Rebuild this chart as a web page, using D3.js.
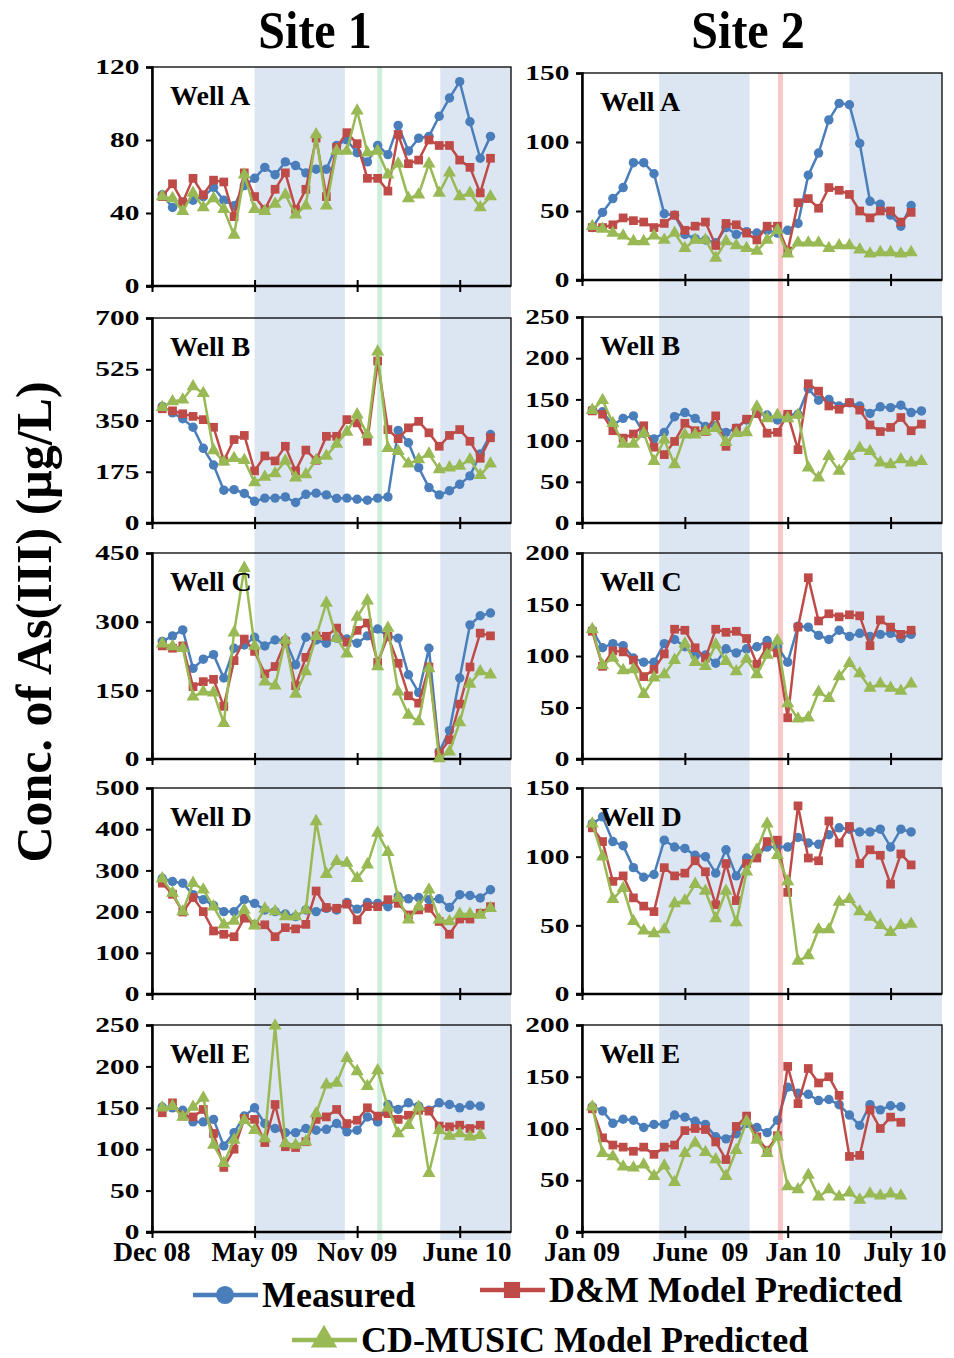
<!DOCTYPE html>
<html>
<head>
<meta charset="utf-8">
<style>
  body { margin: 0; background: #fff; }
  svg { display: block; font-family: "Liberation Serif", "Times New Roman", serif; font-weight: bold; }
</style>
</head>
<body>
<svg width="954" height="1358"></svg>
<script src="https://d3js.org/d3.v7.min.js"></script>
<script>
// ---- data (sample index 1..n on a 0..35 category axis) ----
var seriesNames = ["Measured", "D&M Model Predicted", "CD-MUSIC Model Predicted"];
var wells = ["Well A", "Well B", "Well C", "Well D", "Well E"];

var site1Ticks = ["Dec 08", "May 09", "Nov 09", "June 10"];
var site1TickPos = [0, 10, 20, 30.7];
var site2Ticks = ["Jan 09", "June  09", "Jan 10", "July 10"];
var site2TickPos = [0, 11.5, 21.5, 31.4];

var site1Bands = [[10, 18.8], [28.1, 35]];
var site1Mark = 22.2;
var site2Bands = [[7.5, 16.3], [26, 35]];
var site2Mark = 19.3;

var site1YMax = [120, 700, 450, 500, 250];
var site1YStep = [40, 175, 150, 100, 50];
var site2YMax = [150, 250, 200, 150, 200];
var site2YStep = [50, 50, 50, 50, 50];

// Site 1
var s1A_meas = [50,43,46,47,49,54,47,44,55,59,65,61,68,66,62,64,64,77,80,73,68,77,72,88,74,81,82,93,103,112,90,70,82];
var s1A_dm   = [49,56,46,59,50,58,57,38,62,49,42,53,62,42,53,81,49,76,84,78,59,59,52,83,67,69,80,77,77,69,65,51,70];
var s1A_cd   = [49,48,41,51,43,48,42,28,61,42,41,45,50,39,44,83,44,74,74,96,73,74,61,67,48,50,67,51,62,49,51,43,49];

var s1B_meas = [398,376,356,327,255,198,112,114,101,74,85,85,89,70,98,102,96,84,85,81,78,85,89,316,274,189,121,96,110,132,161,236,302];
var s1B_dm   = [390,383,373,364,353,327,212,285,299,178,229,212,262,178,249,214,296,296,353,342,279,553,319,288,325,347,308,262,299,319,279,221,291];
var s1B_cd   = [395,415,421,466,443,248,209,221,214,138,157,169,212,155,166,214,229,270,311,370,302,585,255,245,202,217,236,183,189,195,217,163,202];

var s1C_meas = [257,269,282,198,218,228,177,242,249,266,247,260,260,206,266,260,253,264,262,253,269,284,268,264,184,145,242,16,62,177,293,313,319];
var s1C_dm   = [247,242,247,158,169,174,115,215,262,235,186,202,257,160,222,269,268,286,255,281,297,211,268,209,138,122,201,12,42,120,201,275,269];
var s1C_cd   = [252,246,242,136,147,145,78,276,417,247,169,160,260,142,191,268,341,264,230,310,346,202,286,147,96,82,198,1,16,80,164,191,184];

var s1D_meas = [281,273,269,241,229,215,200,200,229,220,204,200,194,188,204,200,208,204,222,206,222,220,212,237,231,234,229,231,210,241,239,233,253];
var s1D_dm   = [269,242,199,234,200,153,145,139,184,169,168,139,161,158,169,250,210,208,218,180,212,212,229,220,192,204,208,176,145,182,182,196,212];
var s1D_cd   = [280,245,200,269,253,212,168,177,204,166,207,200,188,188,204,419,291,322,318,281,314,391,344,233,180,212,253,180,176,194,194,192,208];

var s1E_meas = [151,150,147,133,133,136,104,120,140,150,131,125,120,120,125,123,124,131,121,123,139,133,154,148,156,152,147,156,154,150,153,152];
var s1E_dm   = [144,156,140,139,148,119,78,100,137,136,108,154,103,102,109,136,139,148,131,135,150,140,143,136,141,147,146,128,127,129,125,129];
var s1E_cd   = [150,152,139,151,162,105,83,111,135,123,113,249,107,105,109,143,178,180,210,194,176,195,150,119,129,151,71,123,116,119,115,117];

// Site 2
var s2A_meas = [38,49,59,67,85,85,77,48,47,33,30,29,27,38,33,35,34,36,34,36,41,76,92,116,128,127,99,57,55,47,39,54];
var s2A_dm   = [38,38,40,45,43,42,38,41,47,36,39,42,25,41,40,34,29,39,39,21,56,59,52,67,65,62,50,45,50,50,42,49];
var s2A_cd   = [39,37,34,32,28,28,32,29,34,23,29,29,16,28,25,23,21,29,36,19,27,27,27,23,25,25,22,19,20,20,19,20];

var s2B_meas = [137,135,119,127,130,109,102,110,129,134,127,117,118,110,115,125,133,131,125,131,132,163,149,150,142,146,142,133,141,140,143,134,136];
var s2B_dm   = [136,132,112,103,108,118,92,83,99,121,112,111,130,93,115,126,133,109,110,132,89,169,160,142,138,146,137,119,111,116,128,112,120];
var s2B_cd   = [137,149,121,96,96,109,75,101,71,107,107,111,115,98,109,110,141,127,131,127,131,67,55,81,63,81,91,87,73,71,77,73,75];

var s2C_meas = [125,108,112,110,98,94,94,112,116,109,100,101,93,107,103,107,109,115,109,94,129,128,120,116,125,119,122,119,121,122,117,121];
var s2C_dm   = [124,90,105,104,96,80,87,102,126,125,108,98,126,123,124,117,92,109,103,40,128,176,134,141,138,140,139,110,135,128,121,125];
var s2C_cd   = [126,91,98,86,87,63,79,82,96,112,94,90,111,95,85,97,82,101,115,54,39,40,65,59,80,93,83,69,73,69,66,73];

var s2D_meas = [124,129,111,108,92,85,87,112,107,106,101,100,88,105,86,99,101,107,107,107,114,110,109,116,121,120,118,118,120,107,120,118];
var s2D_dm   = [121,111,82,86,70,64,60,92,86,88,97,89,65,95,68,95,99,111,112,74,137,99,97,126,110,122,95,105,101,80,102,94];
var s2D_cd   = [124,100,69,77,53,46,44,47,66,68,80,75,55,75,52,89,105,124,101,82,24,28,47,47,67,69,60,56,50,45,50,51];

var s2E_meas = [121,117,105,109,108,101,104,104,113,111,107,104,92,90,95,105,101,96,108,140,134,133,127,128,123,113,103,123,118,122,121];
var s2E_dm   = [119,91,84,82,78,82,75,82,84,98,100,99,87,70,102,112,92,79,93,160,124,158,144,150,132,73,74,118,100,111,106];
var s2E_cd   = [121,76,73,63,62,65,54,64,48,76,86,77,70,54,79,107,89,76,92,44,41,55,34,41,34,38,31,37,35,37,35];

var site1Data = [[s1A_meas,s1A_dm,s1A_cd],[s1B_meas,s1B_dm,s1B_cd],[s1C_meas,s1C_dm,s1C_cd],[s1D_meas,s1D_dm,s1D_cd],[s1E_meas,s1E_dm,s1E_cd]];
var site2Data = [[s2A_meas,s2A_dm,s2A_cd],[s2B_meas,s2B_dm,s2B_cd],[s2C_meas,s2C_dm,s2C_cd],[s2D_meas,s2D_dm,s2D_cd],[s2E_meas,s2E_dm,s2E_cd]];

// ---- layout ----
var colors = ["#4a7ebb", "#be4b48", "#98b954"];
var svg = d3.select("svg");

var sites = [
  { left: 152, right: 511, tops: [67, 318, 553, 788, 1025], bottoms: [286, 523, 759, 994, 1232],
    data: site1Data, yMax: site1YMax, yStep: site1YStep, bands: site1Bands, mark: site1Mark,
    markColor: "#cdeedb", ticks: site1Ticks, tickPos: site1TickPos, title: "Site 1", titleX: 315 },
  { left: 582, right: 942, tops: [73, 317, 553, 788, 1025], bottoms: [280, 523, 759, 994, 1232],
    data: site2Data, yMax: site2YMax, yStep: site2YStep, bands: site2Bands, mark: site2Mark,
    markColor: "#f9c9c9", ticks: site2Ticks, tickPos: site2TickPos, title: "Site 2", titleX: 748 }
];

var symbols = [d3.symbolCircle, d3.symbolSquare, d3.symbolTriangle];
var symSize = [70, 76, 74];

sites.forEach(function(s) {
  var x = d3.scaleLinear().domain([0, 35]).range([s.left, s.right]);
  var top = s.tops[0], bottom = 1240;

  // seasonal bands and event line behind all panels
  svg.append("g").selectAll("rect")
    .data(s.bands)
    .enter().append("rect")
      .attr("x", function(d) { return x(d[0]); })
      .attr("width", function(d) { return x(d[1]) - x(d[0]); })
      .attr("y", top)
      .attr("height", bottom - top)
      .attr("fill", "#dce6f2");
  svg.append("rect")
      .attr("x", x(s.mark) - 2.5).attr("width", 5)
      .attr("y", top).attr("height", bottom - top)
      .attr("fill", s.markColor);

  svg.append("text")
      .attr("transform", "translate(" + s.titleX + ",48) scale(1,1.1)")
      .attr("text-anchor", "middle")
      .attr("font-size", 48)
      .text(s.title);

  s.data.forEach(function(rows, i) {
    var y = d3.scaleLinear().domain([0, s.yMax[i]]).range([s.bottoms[i], s.tops[i]]);
    var g = svg.append("g");

    g.append("rect")
        .attr("x", s.left).attr("y", s.tops[i])
        .attr("width", s.right - s.left).attr("height", s.bottoms[i] - s.tops[i])
        .attr("fill", "none").attr("stroke", "#000").attr("stroke-width", 1.3);

    // y axis
    var ya = g.append("g")
        .attr("transform", "translate(" + s.left + ",0)")
        .call(d3.axisLeft(y)
          .tickValues(d3.range(0, s.yMax[i] + 1, s.yStep[i]))
          .tickSize(6).tickPadding(3));
    ya.attr("font-family", null);
    ya.select(".domain").attr("stroke-width", 2.5);
    ya.selectAll("line").attr("stroke-width", 2);
    ya.selectAll("text")
        .attr("font-size", 21)
        .attr("fill", "#000")
        .attr("transform", "scale(1.4,1)");

    // x axis with crossing ticks
    var xa = g.append("g")
        .attr("transform", "translate(0," + s.bottoms[i] + ")")
        .call(d3.axisBottom(x).tickValues([0, 10, 20, 30]).tickSize(6).tickFormat(""));
    xa.select(".domain").remove();
    xa.selectAll(".tick line").attr("y1", -6).attr("stroke-width", 2);
    xa.append("line")
        .attr("x1", s.left - 6).attr("x2", s.right)
        .attr("stroke", "#000").attr("stroke-width", 2.5);

    // series
    rows.forEach(function(vals, k) {
      var line = d3.line()
          .x(function(d, j) { return x(j + 1); })
          .y(function(d) { return y(d); });
      g.append("path")
          .datum(vals)
          .attr("fill", "none")
          .attr("stroke", colors[k])
          .attr("stroke-width", 2.5)
          .attr("d", line);
      g.selectAll(".m" + k)
        .data(vals)
        .enter().append("path")
          .attr("class", "m" + k)
          .attr("transform", function(d, j) { return "translate(" + x(j + 1) + "," + y(d) + ")"; })
          .attr("d", d3.symbol().type(symbols[k]).size(symSize[k]))
          .attr("fill", colors[k]);
    });

    g.append("text")
        .attr("x", s.left + 18)
        .attr("y", s.tops[i] + 38)
        .attr("font-size", 28)
        .text(wells[i]);
  });

  // date labels under the bottom row
  svg.append("g").selectAll("text")
    .data(s.ticks)
    .enter().append("text")
      .attr("x", function(d, j) { return x(s.tickPos[j]); })
      .attr("y", 1261)
      .attr("text-anchor", "middle")
      .attr("font-size", 27)
      .style("white-space", "pre")
      .text(function(d) { return d; });
});

// y-axis title
svg.append("text")
    .attr("transform", "translate(51,622) rotate(-90)")
    .attr("text-anchor", "middle")
    .attr("font-size", 50)
    .text("Conc. of As(III) (\u03bcg/L)");

// legend
var legendPos = [[193, 1295], [480, 1290], [292, 1340]];
var legSize = [260, 260, 300];
var leg = svg.append("g").selectAll("g")
  .data(seriesNames)
  .enter().append("g")
    .attr("transform", function(d, k) { return "translate(" + legendPos[k][0] + "," + legendPos[k][1] + ")"; });
leg.append("line")
    .attr("x1", 0).attr("x2", 65)
    .attr("stroke", function(d, k) { return colors[k]; })
    .attr("stroke-width", 4.5);
leg.append("path")
    .attr("transform", "translate(32,0)")
    .attr("d", function(d, k) { return d3.symbol().type(symbols[k]).size(legSize[k])(); })
    .attr("fill", function(d, k) { return colors[k]; });
leg.append("text")
    .attr("x", 69)
    .attr("y", 12)
    .attr("font-size", 36)
    .text(function(d) { return d; });
</script>
</body>
</html>
